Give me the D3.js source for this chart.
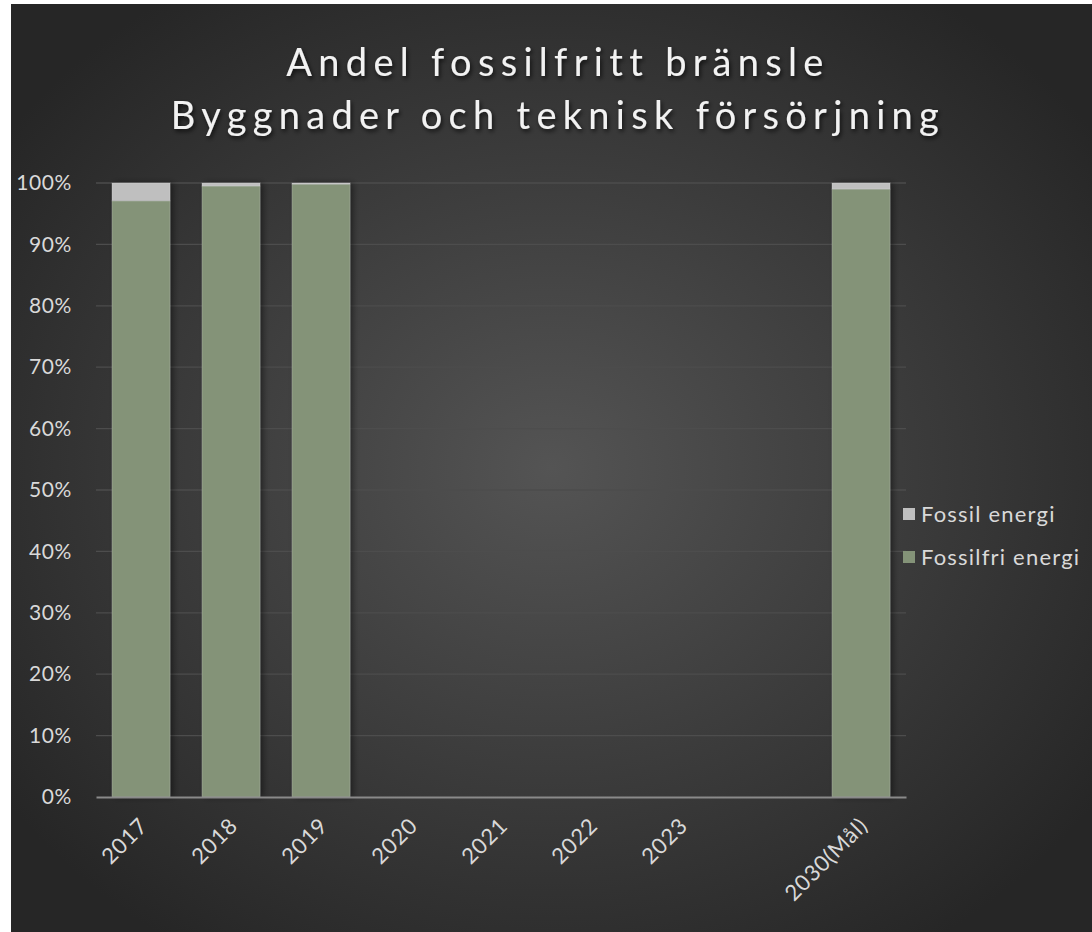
<!DOCTYPE html>
<html>
<head>
<meta charset="utf-8">
<script src="https://cdn.jsdelivr.net/npm/d3@7"></script>
<style>
  body { margin: 0; background: #fff; }
  svg { display: block; }
</style>
</head>
<body>
<div id="chart"></div>
<script>
// categories and values (share of total, %)
var years = ["2017", "2018", "2019", "2020", "2021", "2022", "2023", "", "2030(Mål)"];
var fossilfri = [97.1, 99.5, 99.8, 0, 0, 0, 0, 0, 99.0];
var fossil = [2.9, 0.5, 0.2, 0, 0, 0, 0, 0, 1.0];
var seriesNames = ["Fossil energi", "Fossilfri energi"];
var seriesColors = ["#bfbfbf", "#849378"];
var yTicks = [0, 10, 20, 30, 40, 50, 60, 70, 80, 90, 100];

var W = 1092, H = 932;
var font = "Lato, 'DejaVu Sans', sans-serif";

var svg = d3.select("#chart").append("svg")
    .attr("width", W)
    .attr("height", H);

var defs = svg.append("defs");
var grad = defs.append("radialGradient")
    .attr("id", "bg")
    .attr("cx", "50%").attr("cy", "50%").attr("r", "62%");
grad.append("stop").attr("offset", "0%").attr("stop-color", "#545454");
grad.append("stop").attr("offset", "100%").attr("stop-color", "#262626");

var shadow = defs.append("filter").attr("id", "shadow")
    .attr("x", "-20%").attr("y", "-5%").attr("width", "160%").attr("height", "110%");
shadow.append("feDropShadow")
    .attr("dx", 3).attr("dy", 0).attr("stdDeviation", 3)
    .attr("flood-color", "#000").attr("flood-opacity", 0.45);

var tshadow = defs.append("filter").attr("id", "tshadow");
tshadow.append("feDropShadow")
    .attr("dx", 1.5).attr("dy", 2.5).attr("stdDeviation", 2)
    .attr("flood-color", "#000").attr("flood-opacity", 0.7);

//Background
svg.append("rect")
    .attr("x", 11).attr("y", 4)
    .attr("width", W - 11).attr("height", H - 4)
    .attr("fill", "url(#bg)");

//Title
var title = svg.append("text")
    .attr("text-anchor", "middle")
    .attr("fill", "#f2f2f2")
    .attr("font-family", font)
    .attr("font-size", 38)
    .attr("letter-spacing", 6.3)
    .attr("filter", "url(#tshadow)");
title.append("tspan").attr("x", 558).attr("y", 76).text("Andel fossilfritt bränsle");
title.append("tspan").attr("x", 558).attr("y", 129).text("Byggnader och teknisk försörjning");

var m = { left: 96, right: 906, top: 183, bottom: 797 };

var x = d3.scaleBand()
    .domain(d3.range(years.length))
    .range([m.left, m.right])
    .paddingInner(0.355)
    .paddingOuter(0.1775);

var y = d3.scaleLinear()
    .domain([0, 100])
    .range([m.bottom, m.top]);

//Gridlines
svg.append("g").selectAll("line")
    .data(yTicks.slice(1))
    .enter()
    .append("line")
    .attr("x1", m.left).attr("x2", m.right)
    .attr("y1", function(d) { return y(d); })
    .attr("y2", function(d) { return y(d); })
    .attr("stroke", "#4d4d4d")
    .attr("stroke-width", 1.3);

//Y axis labels
var yAxis = d3.axisLeft(y)
    .tickValues(yTicks)
    .tickSize(0)
    .tickPadding(24)
    .tickFormat(function(d) { return d + "%"; });
var yg = svg.append("g")
    .attr("transform", "translate(" + m.left + ",0)")
    .call(yAxis);
yg.select(".domain").remove();
yg.selectAll("text")
    .attr("fill", "#d9d9d9")
    .attr("font-family", font)
    .attr("font-size", 21)
    .attr("letter-spacing", 0.6);

//Stacked bars
var stackData = years.map(function(d, i) {
  return { i: i, fossilfri: fossilfri[i], fossil: fossil[i] };
});
var stacked = d3.stack().keys(["fossilfri", "fossil"])(stackData);
var colorByKey = { fossilfri: seriesColors[1], fossil: seriesColors[0] };

var barG = svg.append("g").attr("filter", "url(#shadow)");
stacked.forEach(function(layer) {
  barG.selectAll("rect." + layer.key)
    .data(layer.filter(function(d) { return d[1] - d[0] > 0; }))
    .enter()
    .append("rect")
    .attr("class", layer.key)
    .attr("x", function(d) { return x(d.data.i); })
    .attr("width", x.bandwidth())
    .attr("y", function(d) { return y(d[1]); })
    .attr("height", function(d) { return y(d[0]) - y(d[1]); })
    .attr("fill", colorByKey[layer.key])
    .attr("stroke", "rgba(255,255,255,0.18)")
    .attr("stroke-width", 1);
});

//X axis
var xAxis = d3.axisBottom(x)
    .tickSize(0)
    .tickFormat(function(i) { return years[i]; });
var xg = svg.append("g")
    .attr("transform", "translate(0," + m.bottom + ")")
    .call(xAxis);
xg.select(".domain")
    .attr("stroke", "#8a8a8a")
    .attr("stroke-width", 2);
xg.selectAll("text")
    .attr("fill", "#d9d9d9")
    .attr("font-family", font)
    .attr("font-size", 22)
    .attr("letter-spacing", 0.8)
    .attr("text-anchor", "end")
    .attr("dy", 0)
    .attr("transform", "translate(6,28) rotate(-45)");

//Legend
var legend = svg.append("g").selectAll("g")
    .data(seriesNames)
    .enter()
    .append("g")
    .attr("transform", function(d, i) { return "translate(903," + (514 + i * 43) + ")"; });
legend.append("rect")
    .attr("x", 0).attr("y", -6)
    .attr("width", 12).attr("height", 12)
    .attr("fill", function(d, i) { return seriesColors[i]; });
legend.append("text")
    .attr("x", 18).attr("y", 0)
    .attr("dy", "0.35em")
    .attr("fill", "#d9d9d9")
    .attr("font-family", font)
    .attr("font-size", 22)
    .attr("letter-spacing", 1.2)
    .text(function(d) { return d; });
</script>
</body>
</html>
